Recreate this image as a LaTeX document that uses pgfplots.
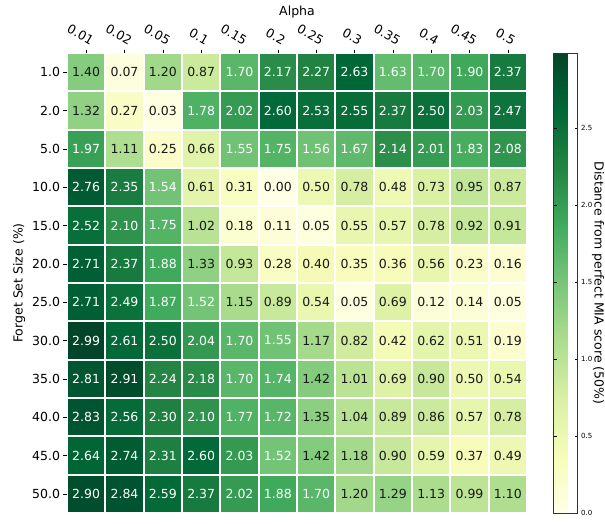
\documentclass[border=0pt]{standalone}
\usepackage{fontspec}
\setmainfont{DejaVu Sans}
\usepackage{pgfplots}
\usepackage{pgfplotstable}
\pgfplotsset{compat=1.18}
\pgfplotstableread{
x y v
0 0 1.40
1 0 0.07
2 0 1.20
3 0 0.87
4 0 1.70
5 0 2.17
6 0 2.27
7 0 2.63
8 0 1.63
9 0 1.70
10 0 1.90
11 0 2.37
0 1 1.32
1 1 0.27
2 1 0.03
3 1 1.78
4 1 2.02
5 1 2.60
6 1 2.53
7 1 2.55
8 1 2.37
9 1 2.50
10 1 2.03
11 1 2.47
0 2 1.97
1 2 1.11
2 2 0.25
3 2 0.66
4 2 1.55
5 2 1.75
6 2 1.56
7 2 1.67
8 2 2.14
9 2 2.01
10 2 1.83
11 2 2.08
0 3 2.76
1 3 2.35
2 3 1.54
3 3 0.61
4 3 0.31
5 3 0.00
6 3 0.50
7 3 0.78
8 3 0.48
9 3 0.73
10 3 0.95
11 3 0.87
0 4 2.52
1 4 2.10
2 4 1.75
3 4 1.02
4 4 0.18
5 4 0.11
6 4 0.05
7 4 0.55
8 4 0.57
9 4 0.78
10 4 0.92
11 4 0.91
0 5 2.71
1 5 2.37
2 5 1.88
3 5 1.33
4 5 0.93
5 5 0.28
6 5 0.40
7 5 0.35
8 5 0.36
9 5 0.56
10 5 0.23
11 5 0.16
0 6 2.71
1 6 2.49
2 6 1.87
3 6 1.52
4 6 1.15
5 6 0.89
6 6 0.54
7 6 0.05
8 6 0.69
9 6 0.12
10 6 0.14
11 6 0.05
0 7 2.99
1 7 2.61
2 7 2.50
3 7 2.04
4 7 1.70
5 7 1.55
6 7 1.17
7 7 0.82
8 7 0.42
9 7 0.62
10 7 0.51
11 7 0.19
0 8 2.81
1 8 2.91
2 8 2.24
3 8 2.18
4 8 1.70
5 8 1.74
6 8 1.42
7 8 1.01
8 8 0.69
9 8 0.90
10 8 0.50
11 8 0.54
0 9 2.83
1 9 2.56
2 9 2.30
3 9 2.10
4 9 1.77
5 9 1.72
6 9 1.35
7 9 1.04
8 9 0.89
9 9 0.86
10 9 0.57
11 9 0.78
0 10 2.64
1 10 2.74
2 10 2.31
3 10 2.60
4 10 2.03
5 10 1.52
6 10 1.42
7 10 1.18
8 10 0.90
9 10 0.59
10 10 0.37
11 10 0.49
0 11 2.90
1 11 2.84
2 11 2.59
3 11 2.37
4 11 2.02
5 11 1.88
6 11 1.70
7 11 1.20
8 11 1.29
9 11 1.13
10 11 0.99
11 11 1.10
}\heat
\begin{document}
\begin{tikzpicture}
\useasboundingbox (-67pt,-10pt) rectangle (538pt,513pt);
\begin{axis}[
  at={(0pt,0pt)}, anchor=south west,
  scale only axis, width=460pt, height=460pt,
  xmin=-0.5, xmax=11.5, ymin=-0.5, ymax=11.5,
  enlargelimits=false,
  y dir=reverse,
  axis line style={draw=none},
  xtick={0,...,11}, ytick={0,...,11},
  xticklabels={0.01,0.02,0.05,0.1,0.15,0.2,0.25,0.3,0.35,0.4,0.45,0.5},
  yticklabels={1.0,2.0,5.0,10.0,15.0,20.0,25.0,30.0,35.0,40.0,45.0,50.0},
  xtick pos=upper, xticklabel pos=upper, ytick pos=left,
  tick align=outside, major tick length=3.5pt,
  tick style={black, line width=0.6pt},
  xticklabel style={rotate=-30, anchor=south east, font=\fontsize{12.5}{15}\selectfont, xshift=5pt, yshift=2pt},
  yticklabel style={font=\fontsize{12.5}{15}\selectfont},
  xlabel={Alpha}, ylabel={Forget Set Size (\%)},
  label style={font=\fontsize{12.5}{15}\selectfont},
  xlabel style={yshift=-3pt},
  colormap={ylgn}{rgb255=(255,255,229) rgb255=(247,252,185) rgb255=(217,240,163) rgb255=(173,221,142) rgb255=(120,198,121) rgb255=(65,171,93) rgb255=(35,132,67) rgb255=(0,104,55) rgb255=(0,69,41)},
  point meta min=0, point meta max=2.99,
  colorbar,
  colorbar style={
    at={(parent axis.north east)}, anchor=north west, xshift=18pt,
    scale only axis, width=24pt, height=460pt,
    axis line style={draw=black!80, line width=0.5pt},
    ytick={0,0.5,...,2.5},
    yticklabel style={font=\fontsize{7}{8}\selectfont, /pgf/number format/fixed, /pgf/number format/fixed zerofill, /pgf/number format/precision=1, /pgf/number format/assume math mode=true},
    tick style={black, line width=0.5pt}, major tick length=3pt,
    ylabel={Distance from perfect MIA score (50\%)},
    ylabel style={rotate=180, font=\fontsize{12.5}{15}\selectfont},
    ylabel shift=-7pt,
  },
]
\addplot[scatter, only marks, mark=square*, mark size=17.7pt,
  scatter/use mapped color={draw=mapped color, fill=mapped color},
  mark options={line width=0pt},
  point meta=\thisrow{v}]
  table[x=x, y=y] {\heat};
\addplot[draw=none, mark=none,
  point meta=\thisrow{v},
  restrict expr to domain={\thisrow{v}}{-1:1.499},
  nodes near coords={\pgfmathprintnumber[fixed,fixed zerofill,precision=2,assume math mode=true]{\pgfplotspointmeta}},
  nodes near coords style={anchor=center, font=\fontsize{12.5}{15}\selectfont, inner sep=0pt, text=black!90}]
  table[x=x, y=y] {\heat};
\addplot[draw=none, mark=none,
  point meta=\thisrow{v},
  restrict expr to domain={\thisrow{v}}{1.5:10},
  nodes near coords={\pgfmathprintnumber[fixed,fixed zerofill,precision=2,assume math mode=true]{\pgfplotspointmeta}},
  nodes near coords style={anchor=center, font=\fontsize{12.5}{15}\selectfont, inner sep=0pt, text=white}]
  table[x=x, y=y] {\heat};
\end{axis}
\end{tikzpicture}
\end{document}
